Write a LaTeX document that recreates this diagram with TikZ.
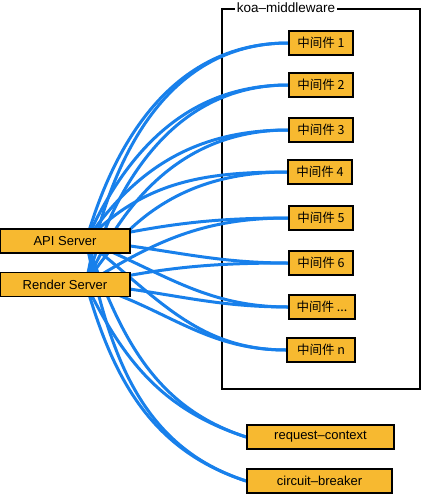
\documentclass[tikz,border=0pt]{standalone}
\usepackage{fontspec}
\setmainfont{Liberation Sans}
\newfontfamily\cjk{Noto Sans CJK SC}
\begin{document}
\begin{tikzpicture}[x=1pt,y=-1pt,
  box/.style={draw=black,line width=1.8pt,fill=boxfill,inner sep=0pt,font=\fontsize{13}{15}\selectfont},
  mw/.style={box,minimum width=64pt,minimum height=24pt,font=\cjk\fontsize{12.5}{14}\selectfont},
  link/.style={draw=linkblue,line width=3pt}]
\definecolor{boxfill}{RGB}{247,185,48}
\definecolor{linkblue}{RGB}{24,128,235}
\useasboundingbox (0,0) rectangle (421,496);
\fill[white] (0,0) rectangle (421,496);
% container
\draw[line width=1.8pt] (222,9) rectangle (420,389);
% sources (hidden anchor points)
\coordinate (sa) at (86,241);
\coordinate (sr) at (86,284);
% targets
\node[mw] (m1) at (321,43) {中间件 1};
\node[mw] (m2) at (321,85) {中间件 2};
\node[mw] (m3) at (321,130) {中间件 3};
\node[mw] (m4) at (320,172) {中间件 4};
\node[mw] (m5) at (321,218) {中间件 5};
\node[mw] (m6) at (321,263) {中间件 6};
\node[mw,minimum width=66pt] (m7) at (322,307) {中间件 ...};
\node[mw,minimum width=68pt] (m8) at (321,350) {中间件 n};
\node[box,minimum width=147pt,minimum height=24pt] (rc) at (320.5,437) {request–context};
\node[box,minimum width=145pt,minimum height=24pt] (cb) at (319.5,481) {circuit–breaker};
% links
\foreach \t/\a/\r/\i in {m1/74/80/180, m2/66/74/180, m3/56/66/180, m4/46/58/180, m5/12/32/180, m6/-5/12/180, m7/-22/-5/180, m8/-38/-16/180, rc/-70/-64/162, cb/-78/-74/162}{
  \draw[link] (sa) to[out=\a,in=\i] (\t.west);
  \draw[link] (sr) to[out=\r,in=\i] (\t.west);
}
% redraw targets on top
\foreach \x/\y/\w/\txt in {321/43/64/{中间件 1}, 321/85/64/{中间件 2}, 321/130/64/{中间件 3}, 320/172/64/{中间件 4}, 321/218/64/{中间件 5}, 321/263/64/{中间件 6}, 322/307/66/{中间件 ...}, 321/350/68/{中间件 n}}{
  \node[mw,minimum width=\w pt] at (\x,\y) {\txt};
}
\node[box,minimum width=147pt,minimum height=24pt] at (320.5,437) {request–context};
\node[box,minimum width=145pt,minimum height=24pt] at (319.5,481) {circuit–breaker};
% sources
\node[box,minimum width=130pt,minimum height=24pt] (api) at (65,241) {API Server};
\node[box,minimum width=130pt,minimum height=24pt] (ren) at (65,284.5) {Render Server};
% container label
\node[fill=white,inner sep=2pt,font=\fontsize{13.5}{15}\selectfont] (lbl) at (286,7.5) {koa–middleware};
\end{tikzpicture}
\end{document}
